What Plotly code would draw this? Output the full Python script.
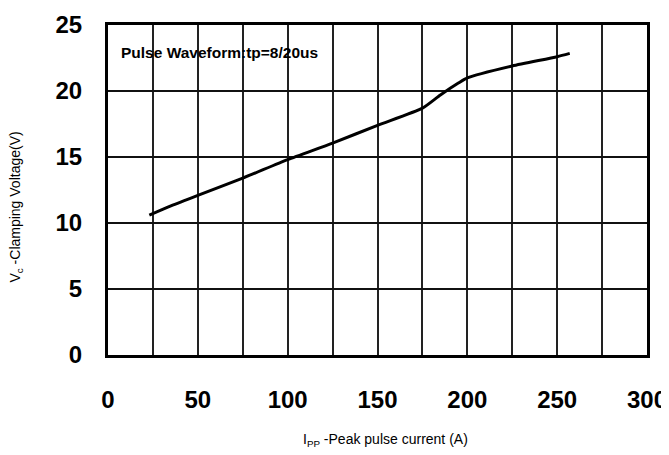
import plotly.graph_objects as go

# Data
ipp = [23, 35, 50, 75, 100, 125, 150, 175, 185, 195, 200, 225, 250, 257]
vc = [10.6, 11.3, 12.1, 13.4, 14.8, 16.05, 17.4, 18.7, 19.7, 20.6, 21.0, 21.9, 22.6, 22.85]

x_ticks = [0, 50, 100, 150, 200, 250, 300]
y_ticks = [0, 5, 10, 15, 20, 25]
note = "Pulse Waveform:tp=8/20us"

fig = go.Figure()
fig.add_trace(go.Scatter(
    x=ipp, y=vc, mode="lines",
    line=dict(color="black", width=3, shape="spline", smoothing=0.6),
    showlegend=False, hoverinfo="skip",
))

tickfont = dict(family="Liberation Sans, Arial", size=24, color="black", weight="bold")

fig.update_layout(
    width=669, height=455,
    margin=dict(l=100, r=30, t=17, b=108, autoexpand=False),
    paper_bgcolor="white", plot_bgcolor="white",
    xaxis=dict(
        range=[0, 300], tickvals=x_ticks, ticktext=[str(v) for v in x_ticks],
        showgrid=True, gridcolor="#222222", gridwidth=1.6,
        minor=dict(dtick=25, tick0=0, showgrid=True, gridcolor="#222222", gridwidth=1.6),
        showline=True, linecolor="black", linewidth=3, mirror=True, automargin=False,
        ticks="", ticklabelstandoff=21, tickfont=tickfont, zeroline=False,
    ),
    yaxis=dict(
        range=[0, 25], tickvals=y_ticks,
        showgrid=True, gridcolor="#111111", gridwidth=2.2,
        showline=True, linecolor="black", linewidth=3, mirror=True, automargin=False,
        ticks="", ticklabelstandoff=18, tickfont=tickfont, zeroline=False,
    ),
    annotations=[
        dict(text=note, x=0.02, y=0.918, xref="paper", yref="paper", xanchor="left", yanchor="middle",
             showarrow=False, font=dict(family="Liberation Sans, Arial", size=15.5, color="black", weight="bold")),
        dict(text="V<sub>c</sub> -Clamping Voltage(V)", x=-0.17, y=0.448, xref="paper", yref="paper",
             textangle=-90, showarrow=False, xanchor="center", yanchor="middle",
             font=dict(family="Liberation Sans, Arial", size=14, color="black")),
        dict(text="I<sub>PP</sub> -Peak pulse current (A)", x=0.514, y=-0.258, xref="paper", yref="paper",
             showarrow=False, xanchor="center", yanchor="middle",
             font=dict(family="Liberation Sans, Arial", size=14, color="black")),
    ],
)

fig.write_html("out.html")
